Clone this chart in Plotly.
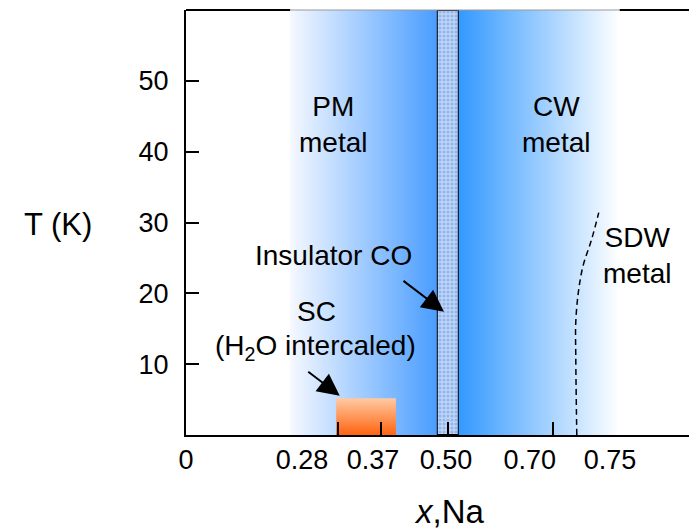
import plotly.graph_objects as go

# ---- data (schematic phase diagram) ----
T_ticks = [10, 20, 30, 40, 50]
T_max = 60

x_tick_labels = ["0", "0.28", "0.37", "0.50", "0.70", "0.75"]
x_label_pos = [0.0, 0.227, 0.366, 0.509, 0.673, 0.830]   # schematic positions of labels
x_mark_pos = [0.297, 0.382, 0.513, 0.718]               # small tick marks on the axis
x_max = 1.016                                           # axis runs past the picture edge

pm_x = [0.204, 0.491]      # PM metal region (white -> blue)
co_x = [0.491, 0.534]      # insulator CO strip
cw_x = [0.534, 0.849]      # CW metal region (blue -> white)
sc_x = [0.294, 0.411]      # superconducting dome (schematic box)
sc_T = [0.0, 5.2]

sdw_x = [0.765, 0.763, 0.763, 0.768, 0.777, 0.794, 0.808]
sdw_T = [0.0, 11.2, 15.9, 20.1, 23.8, 27.6, 31.4]

FONT = "Liberation Sans, Arial, sans-serif"


def rect(xs, ys):
    return ([xs[0], xs[1], xs[1], xs[0], xs[0]],
            [ys[0], ys[0], ys[1], ys[1], ys[0]])


fig = go.Figure()

# PM gradient
rx, ry = rect(pm_x, [0, T_max])
fig.add_trace(go.Scatter(
    x=rx, y=ry, fill="toself", mode="lines",
    line=dict(width=0, color="rgba(0,0,0,0)"),
    fillgradient=dict(type="horizontal",
                      colorscale=[[0, "#f5f8ff"], [1, "#4a9dff"]]),
    hoverinfo="skip", showlegend=False))

# CW gradient
rx, ry = rect(cw_x, [0, T_max])
fig.add_trace(go.Scatter(
    x=rx, y=ry, fill="toself", mode="lines",
    line=dict(width=0, color="rgba(0,0,0,0)"),
    fillgradient=dict(type="horizontal",
                      colorscale=[[0, "#3399ff"], [1, "#ffffff"]]),
    hoverinfo="skip", showlegend=False))

# SC box (vertical gradient)
rx, ry = rect(sc_x, sc_T)
fig.add_trace(go.Scatter(
    x=rx, y=ry, fill="toself", mode="lines",
    line=dict(width=0, color="rgba(0,0,0,0)"),
    fillgradient=dict(type="vertical",
                      colorscale=[[0, "#ff6410"], [1, "#ffcaa4"]]),
    hoverinfo="skip", showlegend=False))

# Insulator CO strip
fig.add_trace(go.Bar(
    x=[(co_x[0] + co_x[1]) / 2], y=[T_max], base=0,
    width=[co_x[1] - co_x[0]],
    marker=dict(color="#c8d3ee",
                line=dict(color="black", width=2),
                pattern=dict(shape=".", fgcolor="#4a9fff", bgcolor="#c8d3ee",
                             size=4, solidity=0.5)),
    hoverinfo="skip", showlegend=False))

# SDW boundary
fig.add_trace(go.Scatter(
    x=sdw_x, y=sdw_T, mode="lines",
    line=dict(color="black", width=1.5, dash="6px,4px", shape="spline"),
    hoverinfo="skip", showlegend=False))

# helper trace for the tick-mark axis
fig.add_trace(go.Scatter(x=[0, 1], y=[0, 0], xaxis="x2", mode="lines",
                         line=dict(width=0, color="rgba(0,0,0,0)"),
                         hoverinfo="skip", showlegend=False))

# top border: black outside the gradient, grey over it
shapes = [
    dict(type="line", xref="x", yref="paper", x0=0, x1=pm_x[0], y0=1, y1=1,
         line=dict(color="black", width=2)),
    dict(type="line", xref="x", yref="paper", x0=pm_x[0], x1=cw_x[1], y0=1, y1=1,
         line=dict(color="#999999", width=1)),
    dict(type="line", xref="x", yref="paper", x0=cw_x[1], x1=x_max, y0=1, y1=1,
         line=dict(color="black", width=2)),
]

tf = dict(family=FONT, size=27, color="black")
af = dict(family=FONT, size=28, color="black")
annotations = [
    dict(x=0.288, y=43.8, text="PM<br>metal", showarrow=False, font=af),
    dict(x=0.724, y=43.8, text="CW<br>metal", showarrow=False, font=af),
    dict(x=0.883, y=25.4, text="SDW<br>metal", showarrow=False, font=af),
    dict(x=0.288, y=25.3, text="Insulator CO", showarrow=False, font=af),
    dict(x=0.256, y=17.4, text="SC", showarrow=False, font=af),
    dict(x=0.254, y=12.4, text="(H<sub>2</sub>O intercaled)", showarrow=False, font=af),
    # arrows
    dict(x=0.505, y=17.4, ax=-42, ay=-32, text="", showarrow=True,
         arrowhead=2, arrowsize=2.2, arrowwidth=2, arrowcolor="black"),
    dict(x=0.301, y=5.55, ax=-33, ay=-25, text="", showarrow=True,
         arrowhead=2, arrowsize=2.2, arrowwidth=2, arrowcolor="black"),
    # axis titles
    dict(xref="paper", yref="paper", x=-0.2466, y=0.495, text="T (K)",
         xanchor="center", yanchor="middle",
         showarrow=False, font=dict(family=FONT, size=31, color="black")),
    dict(xref="paper", yref="paper", x=0.507, y=-0.181, text="<i>x</i>,Na",
         xanchor="center", yanchor="middle",
         showarrow=False, font=dict(family=FONT, size=33, color="black")),
]

# page body adds an 8px offset; margins compensate so the plot area
# sits at the reference's pixel position
fig.update_layout(
    width=697, height=529,
    margin=dict(l=178, r=0, t=2, b=102, autoexpand=False),
    paper_bgcolor="white", plot_bgcolor="white",
    showlegend=False,
    shapes=shapes,
    annotations=annotations,
    xaxis=dict(range=[0, x_max], tickvals=x_label_pos, ticktext=x_tick_labels,
               ticks="", showline=True, linecolor="black", linewidth=2,
               showgrid=False, zeroline=False, tickfont=tf,
               ticklabelstandoff=0, automargin=False),
    xaxis2=dict(range=[0, x_max], overlaying="x", anchor="y", side="bottom",
                tickvals=x_mark_pos, ticks="inside", ticklen=13, tickwidth=1.5,
                tickcolor="black", showticklabels=False, showline=False,
                showgrid=False, zeroline=False, automargin=False),
    yaxis=dict(range=[0, T_max], tickvals=T_ticks, ticks="inside", ticklen=13,
               tickwidth=1.5, tickcolor="black", showline=True,
               linecolor="black", linewidth=2, showgrid=False, zeroline=False,
               tickfont=tf, ticklabelstandoff=10, automargin=False),
)

fig.write_html("out.html")
